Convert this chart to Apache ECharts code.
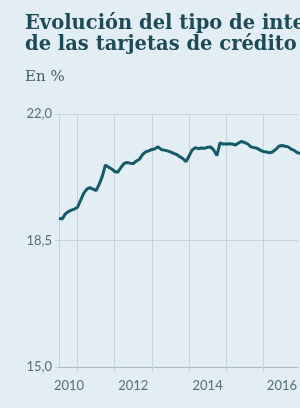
<!DOCTYPE html>
<html>
<head>
<meta charset="utf-8">
<script src="https://cdn.jsdelivr.net/npm/echarts@6/dist/echarts.min.js"></script>
<style>
  html, body { margin: 0; padding: 0; background: #e2eef3; }
  #chart { width: 300px; height: 408px; }
</style>
</head>
<body>
<div id="chart"></div>
<script>
// monthly series, first value = July 2010
var startYear = 2010;
var startMonth = 7;
var rate = [
  19.12, 19.09, 19.23, 19.30, 19.34, 19.37, 19.42, 19.62, 19.81, 19.92,
  19.96, 19.92, 19.88, 20.06, 20.28, 20.59, 20.53, 20.48, 20.41, 20.39,
  20.52, 20.63, 20.66, 20.64, 20.63, 20.70, 20.75, 20.88, 20.95, 20.98,
  21.02, 21.04, 21.09, 21.02, 21.00, 20.98, 20.95, 20.91, 20.88, 20.82,
  20.77, 20.68, 20.84, 21.00, 21.07, 21.04, 21.06, 21.05, 21.08, 21.09,
  21.00, 20.85, 21.20, 21.17, 21.17, 21.18, 21.17, 21.14, 21.20, 21.24,
  21.21, 21.17, 21.09, 21.07, 21.05, 21.00, 20.96, 20.95, 20.93, 20.95,
  21.02, 21.11, 21.13, 21.11, 21.09, 21.03, 20.99, 20.93, 20.91
];
var yearLines = [2011, 2012, 2013, 2014, 2015, 2016];
var yearLabels = [2010.77, 2012.5, 2014.5, 2016.5];
var yTicks = [15, 18.5, 22];

var points = [];
for (var i = 0; i < rate.length; i++) {
  var m = startMonth - 1 + i;
  points.push([startYear + Math.floor(m / 12) + (m % 12) / 12, rate[i]]);
}

var chart = echarts.init(document.getElementById('chart'));
var gridColor = '#c3d3d9';
var labelColor = '#55707a';

chart.setOption({
  backgroundColor: '#e2eef3',
  animation: false,
  title: [
    {
      text: 'Evolución del tipo de interés\nde las tarjetas de crédito y revolving',
      left: 20,
      top: 8,
      textStyle: {
        fontFamily: 'DejaVu Serif',
        fontWeight: 'bold',
        fontSize: 19.5,
        lineHeight: 21,
        color: '#1d4a57'
      }
    },
    {
      text: 'En %',
      left: 20,
      top: 65,
      textStyle: {
        fontFamily: 'DejaVu Serif',
        fontWeight: 'normal',
        fontSize: 15,
        color: '#3f5f69'
      }
    }
  ],
  grid: { left: 59, right: 0, top: 114, bottom: 41 },
  xAxis: {
    type: 'value',
    min: 2010.5,
    max: 2016.93,
    axisLine: { show: true, lineStyle: { color: '#a9bcc3' } },
    axisTick: { show: true, length: 5, customValues: yearLines, lineStyle: { color: gridColor } },
    splitLine: { show: true, lineStyle: { color: gridColor } },
    axisLabel: {
      customValues: yearLabels,
      margin: 12,
      fontFamily: 'Lato',
      fontSize: 13,
      color: labelColor,
      formatter: function (v) { return String(Math.floor(v)); }
    }
  },
  yAxis: {
    type: 'value',
    min: 15,
    max: 22,
    axisLine: { show: true, lineStyle: { color: gridColor } },
    axisTick: { show: true, length: 4, customValues: yTicks, lineStyle: { color: gridColor } },
    splitLine: { show: true, lineStyle: { color: gridColor } },
    axisLabel: {
      customValues: yTicks,
      margin: 7,
      fontFamily: 'Lato',
      fontSize: 13,
      color: labelColor,
      formatter: function (v) { return v.toFixed(1).replace('.', ','); }
    }
  },
  series: [
    {
      type: 'line',
      data: points,
      showSymbol: false,
      lineStyle: { color: '#155a69', width: 3 }
    }
  ]
});
</script>
</body>
</html>
